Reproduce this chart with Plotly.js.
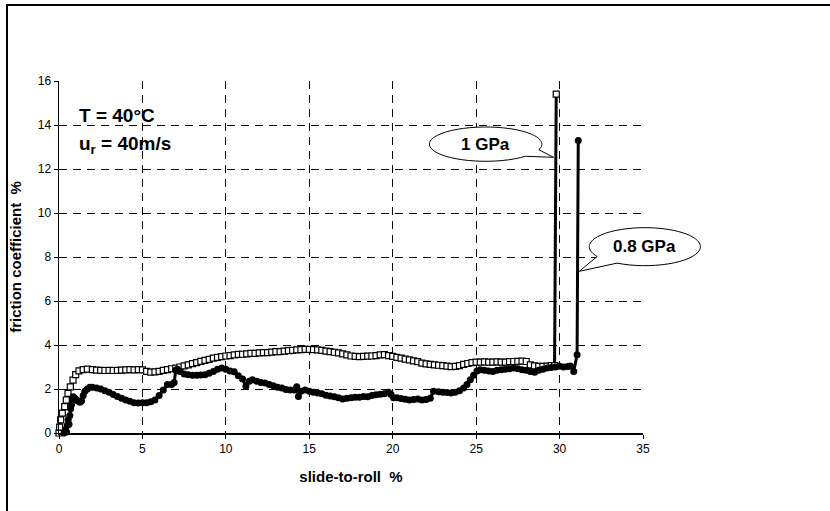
<!DOCTYPE html>
<html>
<head>
<meta charset="utf-8">
<script src="https://cdn.plot.ly/plotly-3.0.1.min.js"></script>
<style>
  html, body { margin: 0; padding: 0; background: #fff; }
  #wrap { position: relative; width: 830px; height: 511px; }
  #chart { width: 830px; height: 511px; }
  #frame { position: absolute; left: 6px; top: 4px; width: 824px; height: 507px;
           border-left: 2px solid #000; border-top: 2px solid #000; pointer-events: none; box-sizing: border-box; }
</style>
</head>
<body>
<div id="wrap"><div id="chart"></div><div id="frame"></div></div>
<script>
// ---- data ----
const series1Name = "1 GPa";
const x1GPa = [0, 0.04, 0.1, 0.2, 0.34, 0.44, 0.54, 0.68, 0.84, 1.0, 1.2, 1.45, 1.7,
  2.0, 2.25, 2.5, 2.75, 3.0, 3.25, 3.5, 3.75, 4.0, 4.25, 4.5, 4.75, 5.0, 5.25, 5.5, 5.75,
  6.0, 6.25, 6.5, 6.75, 7.0, 7.25, 7.5, 7.75, 8.0, 8.25, 8.5, 8.75, 9.0, 9.25, 9.5, 9.75,
  10.0, 10.25, 10.5, 10.75, 11.0, 11.25, 11.5, 11.75, 12.0, 12.25, 12.5, 12.75, 13.0, 13.25, 13.5, 13.75,
  14.0, 14.25, 14.5, 14.75, 15.0, 15.25, 15.5, 15.75, 16.0, 16.25, 16.5, 16.75, 17.0, 17.25, 17.5, 17.75,
  18.0, 18.25, 18.5, 18.75, 19.0, 19.25, 19.5, 19.75, 20.0, 20.25, 20.5, 20.75, 21.0, 21.25, 21.5, 21.75,
  22.0, 22.25, 22.5, 22.75, 23.0, 23.25, 23.5, 23.75, 24.0, 24.25, 24.5, 24.75, 25.0, 25.25, 25.5, 25.75,
  26.0, 26.25, 26.5, 26.75, 27.0, 27.25, 27.5, 27.75, 28.0, 28.25, 28.5, 28.75, 29.0, 29.25, 29.5,
  29.7, 29.8];
const y1GPa = [0, 0.27, 0.6, 0.9, 1.2, 1.5, 1.8, 2.1, 2.4, 2.65, 2.82, 2.88, 2.9,
  2.88, 2.86, 2.85, 2.84, 2.85, 2.84, 2.85, 2.86, 2.87, 2.88, 2.87, 2.88, 2.87, 2.80, 2.77, 2.78,
  2.80, 2.85, 2.88, 2.92, 2.95, 3.00, 3.05, 3.10, 3.15, 3.20, 3.26, 3.30, 3.35, 3.40, 3.44, 3.47,
  3.50, 3.52, 3.55, 3.57, 3.58, 3.60, 3.62, 3.62, 3.64, 3.65, 3.65, 3.68, 3.70, 3.70, 3.72, 3.74,
  3.76, 3.78, 3.79, 3.80, 3.80, 3.79, 3.78, 3.76, 3.72, 3.70, 3.67, 3.64, 3.60, 3.55, 3.50, 3.48,
  3.47, 3.48, 3.49, 3.50, 3.52, 3.55, 3.56, 3.52, 3.48, 3.44, 3.40, 3.36, 3.32, 3.28, 3.24, 3.18,
  3.14, 3.12, 3.10, 3.08, 3.06, 3.04, 3.02, 3.03, 3.06, 3.12, 3.16, 3.20, 3.22, 3.22, 3.23, 3.22,
  3.22, 3.23, 3.22, 3.22, 3.24, 3.25, 3.26, 3.27, 3.25, 3.10, 3.05, 3.03, 3.03, 3.04, 3.06,
  3.06, 15.4];

const series2Name = "0.8 GPa";
const x08GPa = [0.3, 0.38, 0.45, 0.5, 0.55, 0.6, 0.65, 0.7, 0.75, 0.8, 0.85, 0.95, 1.05, 1.15, 1.25, 1.35,
  1.45, 1.55, 1.7, 1.85, 2.0, 2.25, 2.5, 2.75, 3.0, 3.25, 3.5, 3.75, 4.0, 4.25, 4.5, 4.75, 5.0, 5.25,
  5.5, 5.75, 6.0, 6.25, 6.5, 6.75, 6.9, 7.0, 7.1, 7.25, 7.5, 7.75, 8.0, 8.25, 8.5, 8.75, 9.0, 9.25,
  9.5, 9.75, 10.0, 10.25, 10.5, 10.75, 11.0, 11.2, 11.4, 11.6, 11.85, 12.1, 12.35, 12.6, 12.85, 13.1,
  13.35, 13.6, 13.85, 14.1, 14.25, 14.35, 14.5, 14.75, 15.0, 15.25, 15.5, 15.75, 16.0, 16.25, 16.5,
  16.75, 17.0, 17.25, 17.5, 17.75, 18.0, 18.25, 18.5, 18.75, 19.0, 19.25, 19.5, 19.75, 19.9, 20.05,
  20.25, 20.5, 20.75, 21.0, 21.25, 21.5, 21.75, 22.0, 22.25, 22.45, 22.75, 23.0, 23.25, 23.5, 23.75,
  24.0, 24.25, 24.45, 24.65, 24.85, 25.05, 25.25, 25.5, 25.75, 26.0, 26.25, 26.5, 26.75, 27.0, 27.25,
  27.5, 27.75, 28.0, 28.25, 28.5, 28.75, 29.0, 29.25, 29.5, 29.75, 30.0, 30.25, 30.5, 30.65, 30.85,
  31.05, 31.12];
const y08GPa = [0.0, 0.15, 0.05, 0.35, 0.6, 0.4, 0.8, 1.1, 1.3, 1.5, 1.65, 1.58, 1.5, 1.45, 1.4, 1.45,
  1.7, 1.9, 2.0, 2.08, 2.08, 2.05, 2.0, 1.92, 1.85, 1.75, 1.66, 1.58, 1.5, 1.44, 1.38, 1.36, 1.38, 1.38,
  1.42, 1.5, 1.7, 1.95, 2.2, 2.2, 2.3, 2.85, 2.9, 2.8, 2.68, 2.65, 2.62, 2.62, 2.64, 2.65, 2.72, 2.8,
  2.9, 2.95, 2.9, 2.82, 2.78, 2.6, 2.45, 2.12, 2.35, 2.42, 2.35, 2.3, 2.27, 2.2, 2.15, 2.08,
  2.05, 1.98, 1.96, 1.95, 2.1, 1.66, 1.9, 1.95, 1.9, 1.85, 1.82, 1.78, 1.72, 1.68, 1.65,
  1.6, 1.55, 1.58, 1.6, 1.62, 1.63, 1.66, 1.65, 1.7, 1.74, 1.76, 1.78, 1.85, 1.75, 1.6,
  1.6, 1.57, 1.53, 1.5, 1.52, 1.55, 1.5, 1.52, 1.58, 1.9, 1.88, 1.85, 1.84, 1.82, 1.85,
  1.92, 2.05, 2.2, 2.42, 2.62, 2.82, 2.88, 2.85, 2.82, 2.8, 2.85, 2.88, 2.9, 2.92, 2.95,
  2.92, 2.88, 2.85, 2.8, 2.76, 2.85, 2.9, 2.95, 2.98, 3.0, 3.03, 3.0, 3.02, 3.05, 2.8,
  3.56, 13.3];

const xTitle = "slide-to-roll\u00a0 %";
const yTitle = "friction coefficient\u00a0 %";
const noteT = "T = 40°C";
const noteU = "u<sub>r</sub> = 40m/s";

// ---- chart ----
const X_MAX = 35, Y_MAX = 16;
const FONT = "Liberation Sans, Arial, Helvetica, sans-serif";

function calloutPath(cx, cy, rx, ry, tStartDeg, tEndDeg, tipX, tipY) {
  const P = (x, y) => (x / X_MAX).toFixed(5) + "," + (y / Y_MAX).toFixed(5);
  const E = t => [cx + rx * Math.cos(t), cy + ry * Math.sin(t)];
  const D = t => [-rx * Math.sin(t), ry * Math.cos(t)];
  const r = d => d * Math.PI / 180;
  const n = Math.ceil((tEndDeg - tStartDeg) / 60);
  const step = (tEndDeg - tStartDeg) / n;
  const k = 4 / 3 * Math.tan(r(step) / 4);
  let s = "M" + P(...E(r(tStartDeg)));
  for (let i = 0; i < n; i++) {
    const t0 = r(tStartDeg + i * step), t1 = r(tStartDeg + (i + 1) * step);
    const p0 = E(t0), p3 = E(t1), d0 = D(t0), d1 = D(t1);
    s += " C" + P(p0[0] + k * d0[0], p0[1] + k * d0[1]) + " " +
         P(p3[0] - k * d1[0], p3[1] - k * d1[1]) + " " + P(p3[0], p3[1]);
  }
  s += " L" + P(tipX, tipY) + " Z";
  return s;
}

const traces = [
  {
    x: x1GPa, y: y1GPa, name: series1Name, type: "scatter", mode: "lines+markers",
    line: { color: "#000", width: 3 },
    marker: { symbol: "square", size: 6, color: "#fff", line: { color: "#000", width: 1.2 } },
    cliponaxis: false
  },
  {
    x: x08GPa, y: y08GPa, name: series2Name, type: "scatter", mode: "lines+markers",
    line: { color: "#000", width: 3 },
    marker: { symbol: "circle", size: 7, color: "#000" },
    cliponaxis: false
  }
];

const axisCommon = {
  showgrid: true, gridcolor: "#000", gridwidth: 1, griddash: "8px,6px",
  showline: true, linecolor: "#000", linewidth: 1.5, mirror: false,
  ticks: "outside", ticklen: 4, tickcolor: "#000", tickwidth: 1,
  zeroline: false, tickfont: { family: FONT, size: 12, color: "#000" }
};

const layout = {
  width: 830, height: 511,
  margin: { l: 59, r: 187, t: 81, b: 78 },
  paper_bgcolor: "#fff", plot_bgcolor: "#fff",
  showlegend: false,
  xaxis: Object.assign({}, axisCommon, {
    range: [0, X_MAX], tick0: 0, dtick: 5,
    title: { text: xTitle, font: { family: FONT, size: 15, color: "#000", weight: "bold" }, standoff: 16 }
  }),
  yaxis: Object.assign({}, axisCommon, {
    range: [0, Y_MAX], tick0: 0, dtick: 2,
    title: { text: yTitle, font: { family: FONT, size: 15, color: "#000", weight: "bold" }, standoff: 12 }
  }),
  annotations: [
    { x: 1.06, y: 14.42, xref: "x", yref: "y", text: noteT, showarrow: false, xanchor: "left", yanchor: "middle",
      font: { family: FONT, size: 19, color: "#000", weight: "bold" } },
    { x: 1.06, y: 13.1, xref: "x", yref: "y", text: noteU, showarrow: false, xanchor: "left", yanchor: "middle",
      font: { family: FONT, size: 19, color: "#000", weight: "bold" } },
    { x: 25.57 / X_MAX, y: 13.13 / Y_MAX, xref: "paper", yref: "paper", text: series1Name, showarrow: false,
      xanchor: "center", yanchor: "middle", font: { family: FONT, size: 17, color: "#000", weight: "bold" } },
    { x: 35.11 / X_MAX, y: 8.47 / Y_MAX, xref: "paper", yref: "paper", text: series2Name, showarrow: false,
      xanchor: "center", yanchor: "middle", font: { family: FONT, size: 17, color: "#000", weight: "bold" } }
  ],
  shapes: [
    { type: "path", xref: "paper", yref: "paper", layer: "above",
      path: calloutPath(25.57, 13.13, 3.37, 0.78, -19, 315, 29.64, 12.53),
      fillcolor: "#fff", line: { color: "#000", width: 1 } },
    { type: "path", xref: "paper", yref: "paper", layer: "above",
      path: calloutPath(35.11, 8.47, 3.33, 0.864, 240, 571, 31.18, 7.35),
      fillcolor: "#fff", line: { color: "#000", width: 1 } }
  ]
};

Plotly.newPlot("chart", traces, layout, { staticPlot: true, displayModeBar: false });
</script>
</body>
</html>
